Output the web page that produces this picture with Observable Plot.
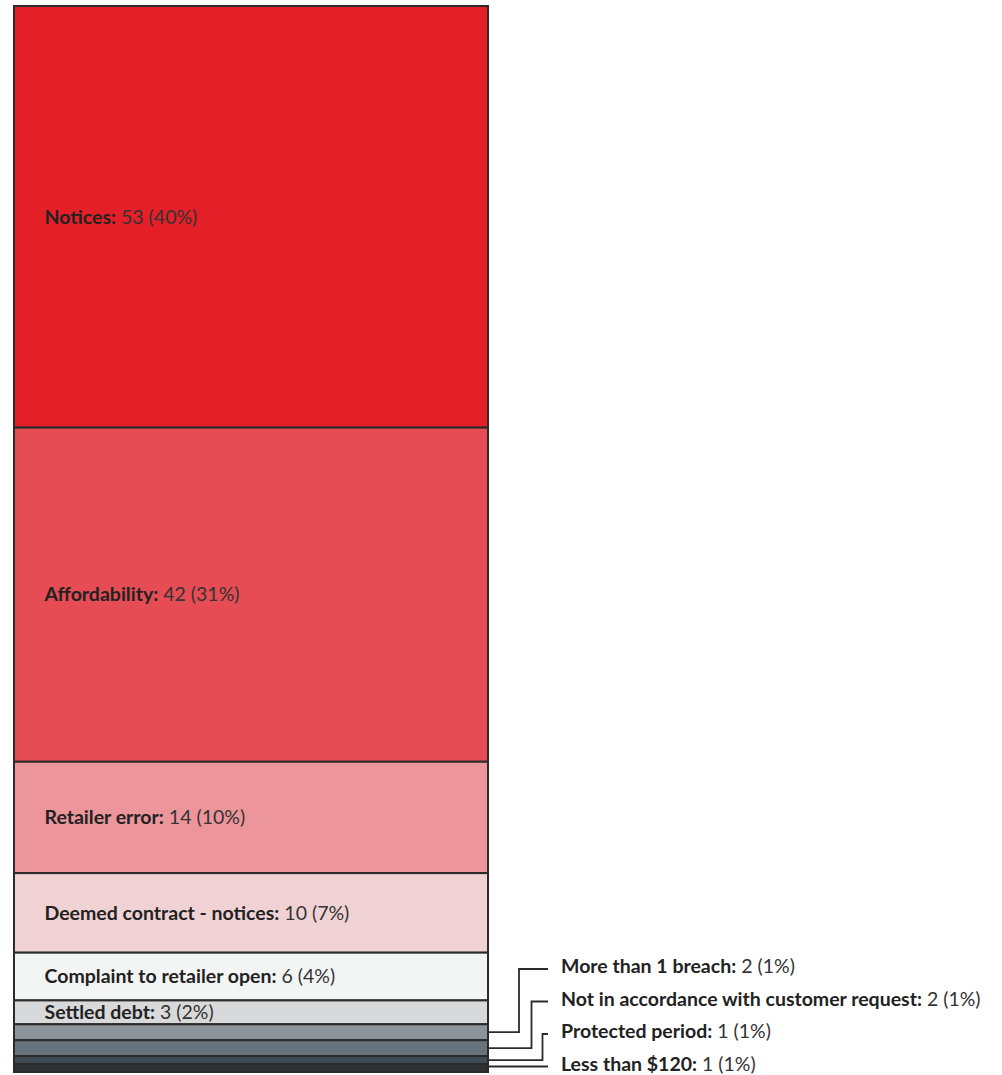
<!DOCTYPE html>
<html>
<head>
<meta charset="utf-8">
<script src="https://cdn.jsdelivr.net/npm/d3@7"></script>
<script src="https://cdn.jsdelivr.net/npm/@observablehq/plot@0.6"></script>
<style>
  html, body { margin: 0; padding: 0; background: #fff; }
  #chart svg { display: block; }
</style>
</head>
<body>
<div id="chart"></div>
<script>
const categories = ["Notices", "Affordability", "Retailer error", "Deemed contract - notices",
  "Complaint to retailer open", "Settled debt", "More than 1 breach",
  "Not in accordance with customer request", "Protected period", "Less than $120"];
const counts = [53, 42, 14, 10, 6, 3, 2, 2, 1, 1];
const percents = [40, 31, 10, 7, 4, 2, 1, 1, 1, 1];
const colors = ["#e41f28", "#e64c53", "#ec959a", "#f1d2d4", "#f3f4f4", "#d8d9da",
  "#8d959c", "#67747d", "#3f4c56", "#2c3133"];
const insideLabel = [true, true, true, true, true, true, false, false, false, false];

const data = categories.map((c, i) => ({
  name: c, count: counts[i], pct: percents[i], color: colors[i], inside: insideLabel[i]
}));
const total = d3.sum(counts);
const FONT = "Lato, 'Open Sans', sans-serif";
const FS = 19.5;

const chart = Plot.plot({
  width: 1002,
  height: 1075,
  marginTop: 6,
  marginBottom: 3,
  marginLeft: 14,
  marginRight: 514,
  style: {fontFamily: FONT, background: "#fff"},
  x: {domain: [0, 1], axis: null},
  y: {domain: [0, total], reverse: true, axis: null},
  marks: [
    Plot.rectY(data, {x1: () => 0, x2: () => 1, y: "count", fill: "color",
      stroke: "#2b2b2b", strokeWidth: 2}),
    Plot.text(data, Plot.stackY({
      x: () => 0, y: "count",
      text: d => d.inside ? `${d.name}: ${d.count} (${d.pct}%)` : null,
      textAnchor: "start", dx: 30, fontSize: FS, fill: "#222", className: "inlbl"
    }))
  ]
});

document.getElementById("chart").appendChild(chart);
const svg = d3.select(chart);

function splitLabel(textSel, str) {
  const k = str.indexOf(":");
  textSel.text(null);
  textSel.append("tspan").attr("font-weight", 700).text(str.slice(0, k + 1));
  textSel.append("tspan").attr("font-weight", 400).attr("fill", "#333").text(str.slice(k + 1));
}
svg.selectAll("g.inlbl text").each(function() {
  const s = d3.select(this);
  splitLabel(s, s.text());
});

// Leader-line labels for the small segments, positioned via the plot's scales
const ys = chart.scale("y");
const xs = chart.scale("x");
const xRight = xs.apply(1);
let cum = 0;
const mids = data.map(d => { const m = cum + d.count / 2; cum += d.count; return ys.apply(m); });
const outside = data.map((d, i) => ({...d, mid: mids[i]})).filter(d => !d.inside);
const spacing = 32.5;
const elbowOffsets = [31, 43.5, 54.5, null];
const lineEnd = xRight + 60;
const labelX = xRight + 73;
const n = outside.length;
const g = svg.append("g").attr("text-anchor", "start");
outside.forEach((d, i) => {
  const lastY = outside[n - 1].mid - 1.5;
  const ly = lastY - (n - 1 - i) * spacing;
  const ex = elbowOffsets[i];
  const pts = ex == null
    ? [[xRight, ly], [lineEnd, ly]]
    : [[xRight, d.mid], [xRight + ex, d.mid], [xRight + ex, ly], [lineEnd, ly]];
  g.append("path")
    .attr("d", d3.line()(pts))
    .attr("fill", "none").attr("stroke", "#2b2b2b").attr("stroke-width", 1.8);
  const t = g.append("text")
    .attr("x", labelX).attr("y", ly - 2)
    .attr("dy", "0.32em").attr("text-anchor", "start")
    .attr("font-size", FS).attr("fill", "#222").attr("font-family", FONT);
  splitLabel(t, `${d.name}: ${d.count} (${d.pct}%)`);
});
</script>
</body>
</html>
